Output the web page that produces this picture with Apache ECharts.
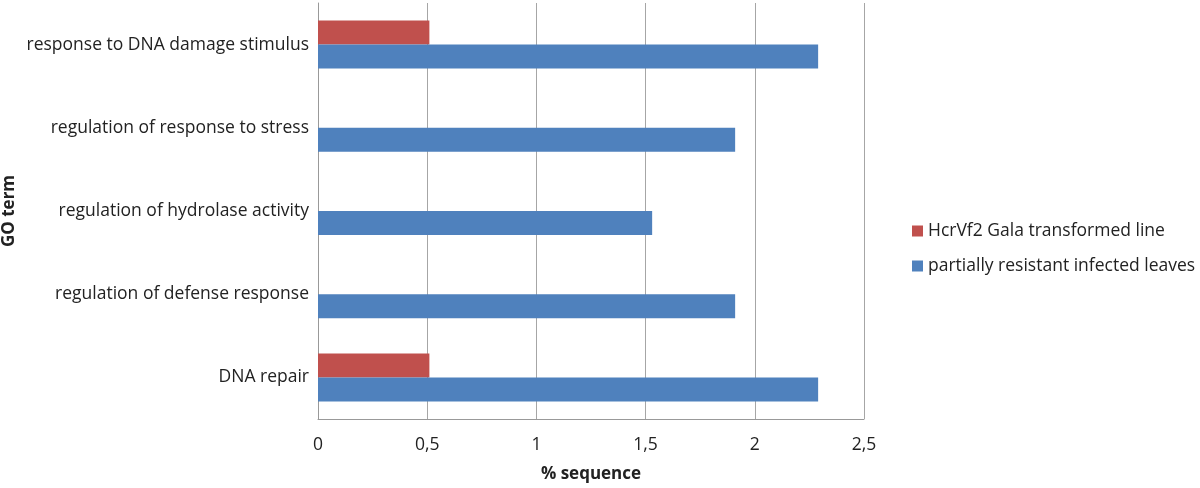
<!DOCTYPE html>
<html>
<head>
<meta charset="utf-8">
<script src="https://cdn.jsdelivr.net/npm/echarts@6/dist/echarts.min.js"></script>
<style>
  html, body { margin: 0; padding: 0; background: #fff; }
  #chart { width: 1200px; height: 488px; }
</style>
</head>
<body>
<div id="chart"></div>
<script>
// categories, bottom to top
var goTerms = ['DNA repair', 'regulation of defense response', 'regulation of hydrolase activity',
  'regulation of response to stress', 'response to DNA damage stimulus'];
var hcrVf2 = [0.51, null, null, null, 0.51];
var partiallyResistant = [2.29, 1.91, 1.53, 1.91, 2.29];
var xTicks = [0, 0.5, 1, 1.5, 2, 2.5];

var font = '"Open Sans", sans-serif';
var myChart = echarts.init(document.getElementById('chart'));

var option = {
  backgroundColor: '#fff',
  animation: false,
  textStyle: { fontFamily: font },
  legend: {
    orient: 'vertical',
    left: 907,
    top: 217,
    itemWidth: 11,
    itemHeight: 11,
    itemGap: 17,
    icon: 'rect',
    textStyle: { fontFamily: font, fontSize: 17.5, color: '#222' },
    data: ['HcrVf2 Gala transformed line', 'partially resistant infected leaves']
  },
  grid: {
    left: 318,
    right: 336,
    top: 3,
    bottom: 69,
    outerBoundsMode: 'none'
  },
  xAxis: {
    type: 'value',
    min: xTicks[0],
    max: xTicks[xTicks.length - 1],
    interval: 0.5,
    name: '% sequence',
    nameLocation: 'middle',
    nameGap: 47,
    nameTextStyle: { fontFamily: font, fontSize: 17, fontWeight: 'bold', color: '#222' },
    axisLine: { show: true, lineStyle: { color: '#999' } },
    axisTick: { show: false },
    axisLabel: {
      fontFamily: font, fontSize: 17.5, color: '#222', margin: 17,
      formatter: function (v) { return String(v).replace('.', ','); }
    },
    splitLine: { show: true, lineStyle: { color: '#a6a6a6', width: 1 } }
  },
  yAxis: {
    type: 'category',
    data: goTerms,
    name: 'GO term',
    nameLocation: 'middle',
    nameRotate: 90,
    nameGap: 300,
    nameTextStyle: { fontFamily: font, fontSize: 17, fontWeight: 'bold', color: '#222' },
    axisLine: { show: true, lineStyle: { color: '#999' } },
    axisTick: { show: false },
    axisLabel: { fontFamily: font, fontSize: 17.5, color: '#222', margin: 9 },
    splitLine: { show: false }
  },
  series: [
    {
      name: 'HcrVf2 Gala transformed line',
      type: 'bar',
      data: hcrVf2,
      barWidth: 24,
      barGap: '0%',
      itemStyle: { color: '#c0504d' }
    },
    {
      name: 'partially resistant infected leaves',
      type: 'bar',
      data: partiallyResistant,
      barWidth: 24,
      barGap: '0%',
      itemStyle: { color: '#4f81bd' }
    }
  ]
};

myChart.setOption(option);
</script>
</body>
</html>
